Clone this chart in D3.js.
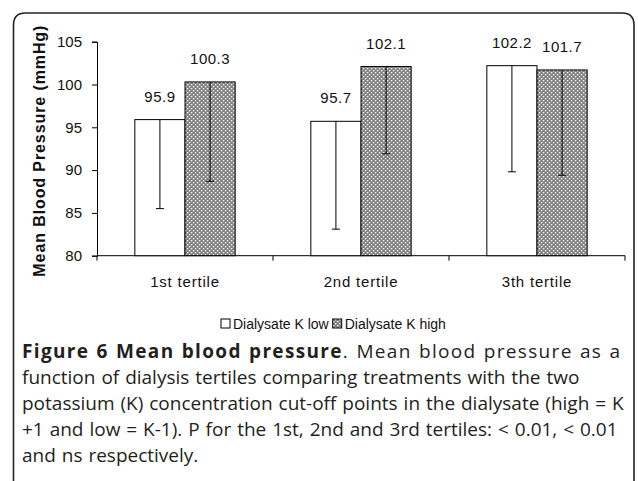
<!DOCTYPE html>
<html>
<head>
<meta charset="utf-8">
<script src="https://cdn.jsdelivr.net/npm/d3@7"></script>
<style>
  body { margin: 0; background: #fff; }
  svg { display: block; }
</style>
</head>
<body>
<div id="chart"></div>
<script>
// data
const categories  = ['1st tertile', '2nd tertile', '3th tertile'];
const seriesNames = ['Dialysate K low', 'Dialysate K high'];
const lowValues   = [95.9, 95.7, 102.2];
const highValues  = [100.3, 102.1, 101.7];
const lowErrBottom  = [85.5, 83.1, 89.8];
const highErrBottom = [88.7, 91.9, 89.4];
const yTicks = [80, 85, 90, 95, 100, 105];

const captionLines = [
  [{ t: 'Figure 6 Mean blood pressure', b: true }, { t: '. Mean blood pressure as a', b: false }],
  [{ t: 'function of dialysis tertiles comparing treatments with the two', b: false }],
  [{ t: 'potassium (K) concentration cut-off points in the dialysate (high = K', b: false }],
  [{ t: '+1 and low = K-1). P for the 1st, 2nd and 3rd tertiles: < 0.01, < 0.01', b: false }],
  [{ t: 'and ns respectively.', b: false }]
];

const width = 638, height = 481;
const plot = { left: 97, right: 625, top: 41.7, bottom: 255.7 };

const svg = d3.select('#chart').append('svg')
  .attr('width', width)
  .attr('height', height);

// hatch pattern for the "high" bars
const defs = svg.append('defs');
const pat = defs.append('pattern')
  .attr('id', 'hatch')
  .attr('patternUnits', 'userSpaceOnUse')
  .attr('width', 4)
  .attr('height', 4);
pat.append('rect').attr('width', 4).attr('height', 4).attr('fill', '#7d7d7d');
pat.append('rect').attr('x', 0).attr('y', 0).attr('width', 1.4).attr('height', 1.4).attr('fill', '#fff');
pat.append('rect').attr('x', 2).attr('y', 2).attr('width', 1.4).attr('height', 1.4).attr('fill', '#fff');

// outer rounded frame
svg.append('path')
  .attr('d', `M13.5,495 L13.5,25 Q13.5,13 25.5,13 L622,13 Q634,13 634,25 L634,495`)
  .attr('fill', 'none')
  .attr('stroke', '#222')
  .attr('stroke-width', 1.6);

const x0 = d3.scaleBand()
  .domain(categories)
  .range([plot.left, plot.right])
  .paddingInner(0.43)
  .paddingOuter(0.215);

const x1 = d3.scaleBand()
  .domain(seriesNames)
  .range([0, x0.bandwidth()]);

const y = d3.scaleLinear()
  .domain([80, 105])
  .range([plot.bottom, plot.top]);

const font = '"Liberation Sans", Arial, sans-serif';

// y axis
const yAxis = svg.append('g')
  .attr('transform', `translate(${plot.left},0)`)
  .call(d3.axisLeft(y).tickValues(yTicks).tickSize(5).tickPadding(10));
yAxis.select('.domain').attr('stroke', '#000');
yAxis.selectAll('.tick line').attr('stroke', '#000');
yAxis.selectAll('text')
  .attr('font-family', font)
  .attr('font-size', 15)
  .attr('fill', '#111');

// x axis: ticks at category boundaries
const xAxisG = svg.append('g');
xAxisG.append('line')
  .attr('x1', plot.left).attr('x2', plot.right)
  .attr('y1', plot.bottom).attr('y2', plot.bottom)
  .attr('stroke', '#000');
const step = (plot.right - plot.left) / categories.length;
d3.range(categories.length + 1).forEach(i => {
  const xx = plot.left + i * step;
  xAxisG.append('line')
    .attr('x1', xx).attr('x2', xx)
    .attr('y1', plot.bottom).attr('y2', plot.bottom + 5)
    .attr('stroke', '#000');
});
categories.forEach(c => {
  xAxisG.append('text')
    .attr('x', x0(c) + x0.bandwidth() / 2)
    .attr('y', plot.bottom + 31)
    .attr('text-anchor', 'middle')
    .attr('font-family', font)
    .attr('font-size', 15)
    .attr('letter-spacing', 0.8)
    .attr('fill', '#111')
    .text(c);
});

// bars
const rows = categories.map((c, i) => ({
  cat: c,
  items: [
    { s: seriesNames[0], v: lowValues[i], e: lowErrBottom[i] },
    { s: seriesNames[1], v: highValues[i], e: highErrBottom[i] }
  ]
}));

const groups = svg.selectAll('.grp')
  .data(rows)
  .join('g')
  .attr('class', 'grp')
  .attr('transform', d => `translate(${x0(d.cat)},0)`);

groups.selectAll('rect')
  .data(d => d.items)
  .join('rect')
  .attr('x', d => x1(d.s))
  .attr('y', d => y(d.v))
  .attr('width', x1.bandwidth())
  .attr('height', d => y(80) - y(d.v))
  .attr('fill', (d, i) => i === 0 ? '#fff' : 'url(#hatch)')
  .attr('stroke', '#000')
  .attr('stroke-width', 1);

// error bars (minus direction only)
groups.selectAll('.err')
  .data(d => d.items)
  .join('g')
  .attr('class', 'err')
  .each(function(d) {
    const g = d3.select(this);
    const cx = x1(d.s) + x1.bandwidth() / 2;
    g.append('line')
      .attr('x1', cx).attr('x2', cx)
      .attr('y1', y(d.v)).attr('y2', y(d.e))
      .attr('stroke', '#000');
    g.append('line')
      .attr('x1', cx - 4).attr('x2', cx + 4)
      .attr('y1', y(d.e)).attr('y2', y(d.e))
      .attr('stroke', '#000');
  });

// value labels
groups.selectAll('.lbl')
  .data(d => d.items)
  .join('text')
  .attr('class', 'lbl')
  .attr('x', d => x1(d.s) + x1.bandwidth() / 2)
  .attr('y', d => y(d.v) - 18)
  .attr('text-anchor', 'middle')
  .attr('font-family', font)
  .attr('font-size', 15)
  .attr('letter-spacing', 0.5)
  .attr('fill', '#111')
  .text(d => d.v.toFixed(1));

// y axis title
svg.append('text')
  .attr('transform', `translate(45,${(plot.top + plot.bottom) / 2 + 2}) rotate(-90)`)
  .attr('text-anchor', 'middle')
  .attr('font-family', font)
  .attr('font-size', 16)
  .attr('letter-spacing', 0.9)
  .attr('font-weight', 'bold')
  .attr('fill', '#111')
  .text('Mean Blood Pressure (mmHg)');

// legend
const legend = svg.append('g').attr('transform', 'translate(221,329)');
let lx = 0;
seriesNames.forEach((s, i) => {
  legend.append('rect')
    .attr('x', lx).attr('y', -10)
    .attr('width', 9).attr('height', 9)
    .attr('fill', i === 0 ? '#fff' : 'url(#hatch)')
    .attr('stroke', '#000');
  const t = legend.append('text')
    .attr('x', lx + 12)
    .attr('y', 0)
    .attr('font-family', font)
    .attr('font-size', 14)
    .attr('fill', '#111')
    .text(s);
  lx += 12 + t.node().getComputedTextLength() + 4;
});

// caption
const capFont = '"Open Sans", "Noto Sans", sans-serif';
captionLines.forEach((line, i) => {
  const t = svg.append('text')
    .attr('x', 22)
    .attr('y', 358 + i * 26)
    .attr('font-family', capFont)
    .attr('font-size', 19)
    .attr('word-spacing', 1)
    .attr('fill', '#231f20');
  line.forEach(p => {
    t.append('tspan')
      .attr('font-weight', p.b ? 'bold' : 'normal')
      .text(p.t);
  });
  if (i === 0) {
    t.attr('textLength', 598).attr('lengthAdjust', 'spacing');
  }
});
</script>
</body>
</html>
